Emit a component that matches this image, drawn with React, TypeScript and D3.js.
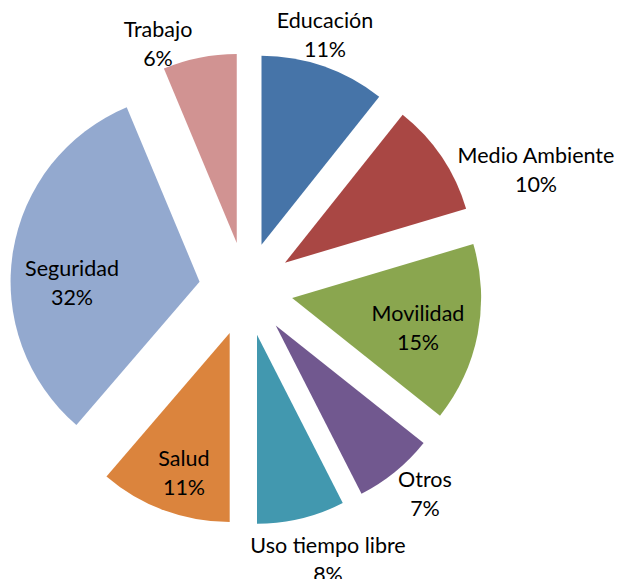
import React from "react";
import * as d3 from "d3";

const categories = ["Educación", "Medio Ambiente", "Movilidad", "Otros", "Uso tiempo libre", "Salud", "Seguridad", "Trabajo"];
const values = [10.7, 9.7, 15.3, 6.8, 7.5, 11.3, 32.4, 6.3];
const colors = ["#4674A8", "#A94744", "#8AA64F", "#71588F", "#4298AF", "#DB843D", "#93A9CF", "#D19392"];
// label centres (layout only)
const labelPos: [number, number][] = [
  [325, 34], [536, 169], [418, 327], [425, 493], [328, 559], [184, 472], [72, 282], [158, 43],
];

const W = 621, H = 579;
const cx = 246, cy = 289, R = 189, explode = 47;

export default function App() {
  const total = d3.sum(values);
  const pie = d3.pie<number>().sort(null).value((d) => d)(values);
  const arc = d3.arc<d3.PieArcDatum<number>>().innerRadius(0).outerRadius(R);
  return (
    <svg width={W} height={H} style={{ position: "absolute", left: 0, top: 0 }} fontFamily="Lato, 'Open Sans', sans-serif">
      <rect width={W} height={H} fill="#fff" />
      {pie.map((p, i) => {
        const mid = (p.startAngle + p.endAngle) / 2;
        const dx = Math.sin(mid) * explode, dy = -Math.cos(mid) * explode;
        return <path key={i} d={arc(p) || ""} fill={colors[i]} transform={`translate(${cx + dx},${cy + dy})`} />;
      })}
      {categories.map((c, i) => {
        const [x, y] = labelPos[i];
        const pct = Math.round((values[i] / total) * 100) + "%";
        return (
          <text key={c} x={x} y={y} textAnchor="middle" fontSize={21.5} fill="#000">
            <tspan x={x} y={y - 14.5} dominantBaseline="central">{c}</tspan>
            <tspan x={x} y={y + 14.5} dominantBaseline="central">{pct}</tspan>
          </text>
        );
      })}
    </svg>
  );
}
